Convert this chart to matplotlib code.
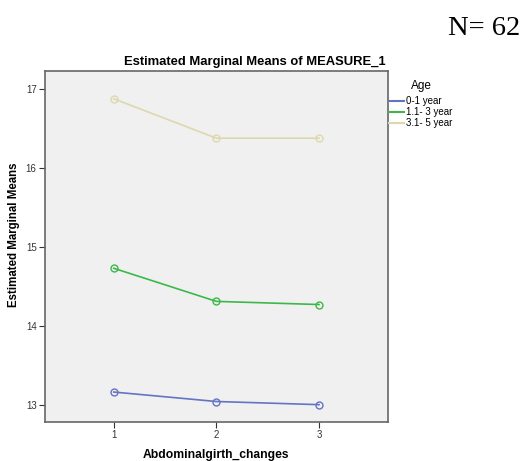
import matplotlib
matplotlib.use("Agg")
import matplotlib.pyplot as plt
from matplotlib.lines import Line2D

plt.rcParams['font.family'] = ['Liberation Sans', 'DejaVu Sans']

# data
x_levels = [1, 2, 3]
age_groups = ['0-1 year', '1.1- 3 year', '3.1- 5 year']
means_0_1 = [13.16, 13.04, 13.00]
means_1_3 = [14.73, 14.31, 14.27]
means_3_5 = [16.88, 16.38, 16.38]
colors = ['#6474c4', '#3cb84a', '#ddd8ac']

fig = plt.figure(figsize=(5.25, 4.61), dpi=100)
ax = fig.add_axes([0.0857, 0.0846, 0.653, 0.761])
ax.set_facecolor('#f0f0f0')

for vals, col in zip([means_0_1, means_1_3, means_3_5], colors):
    ax.plot(x_levels, vals, '-', color=col, linewidth=1.2,
            marker='o', markersize=5, markerfacecolor='none',
            markeredgecolor=col, markeredgewidth=1.0)

ax.set_xlim(0.33, 3.67)
ax.set_ylim(12.78, 17.23)
ax.set_xticks(x_levels)
ax.set_yticks([13, 14, 15, 16, 17])
ax.tick_params(labelsize=7, direction='out', length=4, width=0.8,
               colors='#333333', pad=2)
for s in ax.spines.values():
    s.set_color('#666666')
    s.set_linewidth(1.2)

fig.text(255 / 525, 1 - 62 / 461, 'Estimated Marginal Means of MEASURE_1',
         ha='center', va='center', fontsize=9.4, fontweight='bold')
ax.set_xlabel('Abdominalgirth_changes', fontsize=8.7, fontweight='bold')
ax.set_ylabel('Estimated Marginal Means', fontsize=8.3, fontweight='bold')
ax.xaxis.set_label_coords(0.5, -0.077)
ax.yaxis.set_label_coords(-0.072, 0.535)

handles = [Line2D([], [], color=c, linewidth=1.5) for c in colors]
leg = ax.legend(handles, age_groups, title='Age', loc='upper left',
                bbox_to_anchor=(1.003, 0.975), frameon=False, fontsize=7,
                title_fontsize=8.5, handlelength=1.6, handletextpad=0.2,
                labelspacing=0.1, borderaxespad=0.0, borderpad=0.0)
leg._legend_box.align = 'left'
leg._legend_box.sep = 3
leg.get_title().set_position((22, 0))

fig.text(0.99, 1 - 35 / 461, 'N= 62', ha='right', va='baseline',
         fontsize=20.5, family='Liberation Serif')

fig.savefig('out.png', dpi=100)
